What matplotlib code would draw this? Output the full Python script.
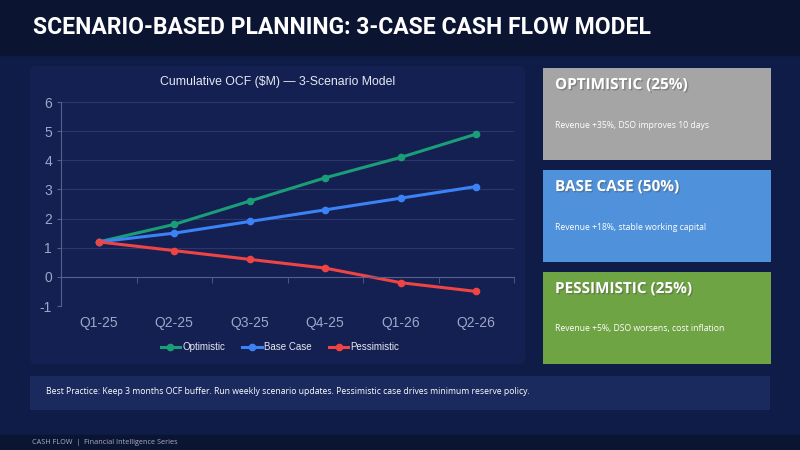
import numpy as np
import matplotlib.pyplot as plt
from matplotlib.patches import FancyBboxPatch, Rectangle
import matplotlib.patheffects as pe

plt.rcParams['axes.unicode_minus'] = False

# Datos
quarters = ['Q1-25', 'Q2-25', 'Q3-25', 'Q4-25', 'Q1-26', 'Q2-26']
optimistic = [1.2, 1.8, 2.6, 3.4, 4.1, 4.9]
base_case = [1.2, 1.5, 1.9, 2.3, 2.7, 3.1]
pessimistic = [1.2, 0.9, 0.6, 0.3, -0.2, -0.5]

box_titles = ['OPTIMISTIC (25%)', 'BASE CASE (50%)', 'PESSIMISTIC (25%)']
box_texts = ['Revenue +35%, DSO improves 10 days',
             'Revenue +18%, stable working capital',
             'Revenue +5%, DSO worsens, cost inflation']
box_colors = ['#a5a5a5', '#4f92db', '#6fa444']

title = 'SCENARIO-BASED PLANNING: 3-CASE CASH FLOW MODEL'
chart_title = 'Cumulative OCF ($M) — 3-Scenario Model'
note = ('Best Practice: Keep 3 months OCF buffer. Run weekly scenario updates. '
        'Pessimistic case drives minimum reserve policy.')
footer = 'CASH FLOW  |  Financial Intelligence Series'

fig = plt.figure(figsize=(8, 4.5), dpi=100)
fig.patch.set_facecolor('#101c48')

# Fondo en pixeles
bg = fig.add_axes([0, 0, 1, 1])
bg.set_xlim(0, 800)
bg.set_ylim(450, 0)
bg.axis('off')

bg.add_patch(Rectangle((0, 0), 800, 55, color='#0b1431', zorder=0))
bg.add_patch(Rectangle((0, 435), 800, 15, color='#0b1431', zorder=0))
bg.text(33, 28, title, color='white', fontsize=16.5, fontweight='bold',
        family='Roboto', va='center', ha='left')

# Panel del grafico
bg.add_patch(FancyBboxPatch((30, 66), 495, 298, boxstyle='round,pad=0,rounding_size=6',
                            facecolor='#152052', edgecolor='none', zorder=1))
bg.text(278, 82, chart_title, color='#e6e9f2', fontsize=8.8, family='Liberation Sans',
        va='center', ha='center', zorder=2)

# Cajas de escenarios
tops = [68, 170, 272]
for t, ttl, txt, col in zip(tops, box_titles, box_texts, box_colors):
    bg.add_patch(Rectangle((543, t), 228, 92, facecolor=col, edgecolor='none', zorder=1))
    bg.text(555, t + 17, ttl, color='white', fontsize=11, fontweight='bold',
            family='Open Sans', va='center', ha='left', zorder=2,
            path_effects=[pe.withSimplePatchShadow(offset=(1, -1), alpha=0.4)])
    bg.text(555, t + 57, txt, color='white', fontsize=6.2, family='Open Sans',
            va='center', ha='left', zorder=2)

# Nota inferior
bg.add_patch(Rectangle((30, 376), 740, 34, facecolor='#1b2a5e', edgecolor='none', zorder=1))
bg.text(46, 392, note, color='white', fontsize=6.2, family='Open Sans',
        va='center', ha='left', zorder=2)

bg.text(32, 442, footer, color='#a8b0cc', fontsize=5.2, family='Open Sans',
        va='center', ha='left')

# Grafico de lineas
ax = fig.add_axes([61 / 800, 1 - 306 / 450, 453 / 800, 204 / 450])
ax.set_facecolor('none')
x = np.arange(len(quarters))
ax.plot(x, optimistic, color='#1a9e78', lw=2.2, marker='o', ms=4.5, label='Optimistic')
ax.plot(x, base_case, color='#3b82f6', lw=2.2, marker='o', ms=4.5, label='Base Case')
ax.plot(x, pessimistic, color='#ef4444', lw=2.2, marker='o', ms=4.5, label='Pessimistic')

ax.set_xlim(-0.5, 5.5)
ax.set_ylim(-1, 6)
ax.set_yticks(range(-1, 7))
ax.set_xticks(x)
ax.set_xticklabels(quarters)
ax.set_xticks(np.arange(-0.5, 6, 1), minor=True)
ax.grid(axis='y', color='#2b376b', lw=0.8)
ax.set_axisbelow(True)

for s in ['top', 'right']:
    ax.spines[s].set_visible(False)
ax.spines['left'].set_color('#56608f')
ax.spines['bottom'].set_color('#56608f')
ax.spines['bottom'].set_position(('data', 0))
ax.tick_params(axis='y', colors='#56608f', labelcolor='#9ea6c8', labelsize=10, length=3)
ax.tick_params(axis='x', which='major', length=0, labelcolor='#9ea6c8', labelsize=10, pad=28)
ax.tick_params(axis='x', which='minor', colors='#56608f', length=4, direction='out')
for lbl in ax.get_xticklabels() + ax.get_yticklabels():
    lbl.set_family('Liberation Sans')

fig.legend(*ax.get_legend_handles_labels(), loc='center',
           bbox_to_anchor=(280 / 800, 1 - 347 / 450), ncol=3, frameon=False,
           prop={'family': 'Liberation Sans', 'size': 7}, labelcolor='#e6e9f2',
           handlelength=2.0, handletextpad=0.2, columnspacing=1.8)

fig.savefig('out.png', dpi=100, facecolor=fig.get_facecolor())
